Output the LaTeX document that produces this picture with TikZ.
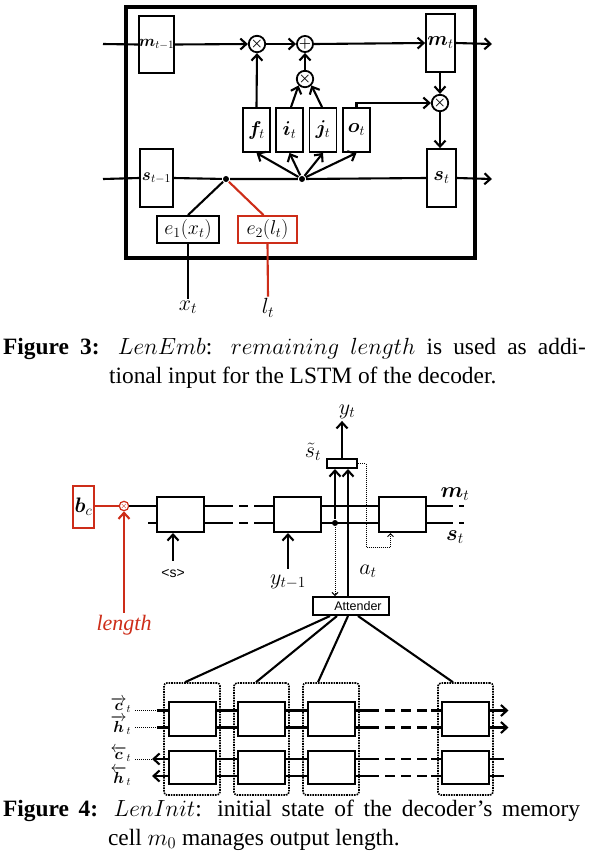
\documentclass[tikz,border=0pt]{standalone}
\usepackage{fix-cm}
\usepackage[no-math]{fontspec}
\setmainfont{Liberation Serif}
\setsansfont{Liberation Sans}
\usepackage{amsmath}
\usepackage{bm}
\usetikzlibrary{arrows.meta,calc}

\definecolor{lenred}{RGB}{205,45,25}

\tikzset{
  cellbox/.style={draw, line width=1.8pt, inner sep=0pt, font=\fontsize{20}{20}\selectfont},
  gatebox/.style={cellbox, minimum width=27, minimum height=44},
  opnode/.style={draw, circle, line width=1.8pt, inner sep=0pt, minimum size=16,
    font=\fontsize{14}{14}\selectfont},
  embbox/.style={draw, line width=1.8pt, inner sep=0pt, minimum height=27,
    font=\fontsize{20}{20}\selectfont},
  decbox/.style={draw, line width=2pt, inner sep=0pt, minimum width=47, minimum height=35},
  encbox/.style={draw, line width=2pt, inner sep=0pt, minimum width=47, minimum height=34},
  grpbox/.style={draw, line width=1.6pt, densely dotted, rounded corners=3pt,
    minimum height=112, inner sep=0pt},
  jointdot/.style={circle, fill, inner sep=0pt, minimum size=6},
  lab/.style={inner sep=1pt, font=\fontsize{22}{22}\selectfont},
  veclab/.style={inner sep=0pt, font=\fontsize{16}{16}\selectfont},
  fbarrow/.style={densely dotted, line width=1pt, -{Straight Barb[length=3pt,width=6pt]}},
  caption/.style={anchor=base west, inner sep=0pt, font=\fontsize{23.4}{28}\selectfont}
}

\begin{document}
\begin{tikzpicture}[x=1pt, y=-1pt, line width=2.1pt,
  >={Straight Barb[length=6pt,width=11pt]}]

\useasboundingbox (0,0) rectangle (589,855);

% ===== Figure 3: LSTM cell =====
\draw[line width=3.4pt] (126,7) rectangle (475,258);

\node[cellbox, minimum width=33, minimum height=57, font=\fontsize{16}{16}\selectfont] (mprev) at (156.5,44.5) {$\bm{m}_{t-1}$};
\node[cellbox, minimum width=33, minimum height=58, font=\fontsize{17}{17}\selectfont] (sprev) at (156.5,178) {$\bm{s}_{t-1}$};
\node[cellbox, minimum width=29, minimum height=58] (mcur) at (440.5,43) {$\bm{m}_t$};
\node[cellbox, minimum width=29, minimum height=58] (scur) at (441.5,178) {$\bm{s}_t$};

% gates
\foreach \g/\x in {f/256.5, i/289.5, j/323, o/356.5} {
    \node[gatebox] (\g) at (\x,130) {$\bm{\g}_t$};
}

% products and sum
\node[opnode] (mulf) at (257,44) {$\bm\times$};
\node[opnode] (addm) at (305,44) {$\bm+$};
\node[opnode] (mulij) at (305,79) {$\bm\times$};
\node[opnode] (mulo) at (440,103) {$\bm\times$};

% joints
\node[jointdot] (jx) at (226,179) {};
\node[jointdot] (jg) at (302,179) {};

% embeddings
\node[embbox, minimum width=62] (emb1) at (188,229.5) {$e_1(x_t)$};
\node[embbox, minimum width=59, draw=lenred] (emb2) at (267.5,229.5) {$e_2(l_t)$};
\node[lab] (xt) at (188,307) {$x_t$};
\node[lab] (lt) at (268,308) {$l_t$};

\coordinate (min) at (103,44);
\coordinate (mout) at (492,44);
\coordinate (sin) at (103,179);
\coordinate (sout) at (492,179);

% ===== Memory line =====
\draw (min) -- (mprev.west);
\draw[->] (mprev.east) -- (mulf.west);
\draw[->] (mulf.east) -- (addm.west);
\draw[->] (addm.east) -- (mcur.west);
\draw[->] (mcur.east) -- (mout);

\draw[->] (f.north) -- (mulf.south);
\draw[->] ([xshift=1.5pt]i.north) -- (mulij.south west);
\draw[->] ([xshift=-1pt]j.north) -- (mulij.south east);
\draw[->] (mulij.north) -- (addm.south);
\draw[->] (o.north) |- (mulo.west);
\draw[->] (mcur.south -| mulo) -- (mulo.north);
\draw[->] (mulo.south) -- (mulo.south |- scur.north);

% ===== State line =====
\draw (sin) -- (sprev.west);
\draw (sprev.east) -- (jx) -- (jg) -- (scur.west);
\draw[->] (scur.east) -- (sout);
\foreach \g in {f,i,j,o} {
    \draw[->] (jg) -- (\g.south);
}

\draw (emb1.north) -- (jx);
\draw[lenred] ([xshift=-4pt]emb2.north) -- (jx);
\draw (emb1.south) -- (xt.north);
\draw[lenred] (emb2.south) -- (lt.north);

% ===== Caption 3 =====
\node[caption] (cap3a) at (2,354) {\makebox[583pt][s]{\textbf{Figure 3:} $LenEmb$: $remaining$ $length$ is used as addi-}};
\node[caption] (cap3b) at (108,383) {tional input for the LSTM of the decoder.};

% ===== Figure 4: decoder =====
\foreach \k/\x in {1/180.5, 2/297, 3/402.5} {
    \node[decbox] (dec\k) at (\x,514.5) {};
}

\node[draw=lenred, line width=2.4pt, minimum width=21, minimum height=42, inner sep=0pt,
  font=\fontsize{21}{21}\selectfont] (bc) at (83.5,507) {$\bm{b}_c$};
\node[draw=lenred, circle, line width=1.2pt, minimum size=9, inner sep=0pt, text=lenred,
  font=\fontsize{8}{8}\selectfont] (mulc) at (124,506) {$\bm\times$};
\node[lab, text=lenred] (len) at (124,625) {\textit{length}};

\node[draw, line width=2pt, minimum width=30, minimum height=9, inner sep=0pt] (st) at (342,463.5) {};
\node[draw, line width=2pt, minimum width=76, minimum height=18, inner sep=0pt] (att) at (351,606) {};
\node[inner sep=0pt, font=\sffamily\fontsize{12.5}{12.5}\selectfont] (atttext) at (358,606.5) {Attender};
\node[jointdot] (jd) at (335,523) {};

\node[lab] (yt) at (347,412) {$y_t$};
\node[lab] (stl) at (313,452) {$\tilde{s}_t$};
\node[lab] (mt) at (455,494) {$\bm{m}_t$};
\node[lab] (stt) at (455,537) {$\bm{s}_t$};
\node[inner sep=1pt, font=\sffamily\fontsize{14}{14}\selectfont] (sos) at (173,573) {<s>};
\node[lab] (ytm) at (288,582) {$y_{t-1}$};
\node[lab] (at) at (368,571) {$a_t$};

% state lines
\foreach \s in {8.5,-8.5} {
    \draw ([yshift=\s pt]dec1.east) -- ++(19,0);
    \draw[dash pattern=on 9pt off 6pt] ([yshift=\s pt,xshift=19pt]dec1.east) -- ++(32,0);
    \draw ([yshift=\s pt]dec2.west) -- ++(-18,0);
    \draw ([yshift=\s pt]dec2.east) -- ([yshift=\s pt]dec3.west);
    \draw ([yshift=\s pt]dec3.east) -- ++(17,0);
    \draw[dash pattern=on 9pt off 6pt] ([yshift=\s pt,xshift=17pt]dec3.east) -- ++(20,0);
}
\draw[lenred] (bc.east |- mulc) -- (mulc.west);
\draw (mulc.east) -- ([yshift=8.5pt]dec1.west);
\draw ([yshift=-8.5pt]dec1.west) -- ++(-8,0);
\draw[lenred, ->] (len.north) -- (mulc.south);

\draw[->] ([yshift=6pt]sos.north) -- (sos.north |- dec1.south);
\draw[->] ([yshift=4pt]ytm.north) -- (ytm.north |- dec2.south);

\draw[->] (jd) -- (jd |- st.south);
\draw[->] ([xshift=-3pt]att.north) -- ([xshift=-3pt]att.north |- st.south);
\draw[->] (st.north) -- (st.north |- yt.south);
\draw[fbarrow] (jd) -- (jd |- att.north);
\coordinate (fbk) at (366,547);
\draw[fbarrow] (st.east) -| (fbk) -| ([xshift=-12pt]dec3.south);

% ===== Figure 4: encoder =====
\foreach \k/\x in {1/192.5, 2/261.5, 3/331.5, 4/465} {
    \node[encbox] (fw\k) at (\x,719) {};
    \node[encbox, minimum height=33] (bw\k) at (\x,767.5) {};
}
\foreach \k/\x/\w in {1/192/56, 2/261.5/55, 3/331/56, 4/465.5/55} {
    \node[grpbox, minimum width=\w] (grp\k) at (\x,739) {};
}

\foreach \k/\dx/\gx in {1/-21/-7, 2/-14/-5.5, 3/-3/-13, 4/7/-12.5} {
    \draw ([xshift=\dx pt]att.south) -- ([xshift=\gx pt]grp\k.north);
}

\foreach \r in {fw,bw} {
    \foreach \s in {8.5,-8.5} {
        \draw ([yshift=\s pt]\r1.east) -- ([yshift=\s pt]\r2.west);
        \draw ([yshift=\s pt]\r2.east) -- ([yshift=\s pt]\r3.west);
        \draw ([yshift=\s pt]\r3.east) -- ++(13,0);
        \draw[dash pattern=on 10pt off 6pt] ([yshift=\s pt,xshift=13pt]\r3.east) -- ++(64,0);
        \draw ([yshift=\s pt]\r4.west) -- ++(-10,0);
    }
}
\foreach \s in {8.5,-8.5} {
    \draw ([yshift=\s pt]fw1.west) -- ++(-11,0);
    \draw[->] ([yshift=\s pt]fw4.east) -- ++(19,0);
    \draw[->] ([yshift=\s pt]bw1.west) -- ++(-16,0);
    \draw ([yshift=\s pt]bw4.east) -- ++(14,0);
}

\node[veclab] (cfw) at (121,705) {$\overrightarrow{\bm{c}}_t$};
\node[veclab] (hfw) at (121,725) {$\overrightarrow{\bm{h}}_t$};
\node[veclab] (cbw) at (121,754) {$\overleftarrow{\bm{c}}_t$};
\node[veclab] (hbw) at (121,776) {$\overleftarrow{\bm{h}}_t$};
\coordinate (cfwend) at ([xshift=-11pt,yshift=8.5pt]fw1.west);
\coordinate (hfwend) at ([xshift=-11pt,yshift=-8.5pt]fw1.west);
\coordinate (cbwend) at ([xshift=-16pt,yshift=8.5pt]bw1.west);
\draw[densely dotted, line width=1pt] ([xshift=3pt]cfw.east |- cfwend) -- (cfwend);
\draw[densely dotted, line width=1pt] ([xshift=3pt]hfw.east |- hfwend) -- (hfwend);
\draw[densely dotted, line width=1pt] ([xshift=3pt]cbw.east |- cbwend) -- (cbwend);

% ===== Caption 4 =====
\node[caption] (cap4a) at (2,816) {\makebox[577pt][s]{\textbf{Figure 4:} $LenInit$: initial state of the decoder’s memory}};
\node[caption] (cap4b) at (107,845) {cell $m_0$ manages output length.};

\end{tikzpicture}
\end{document}
